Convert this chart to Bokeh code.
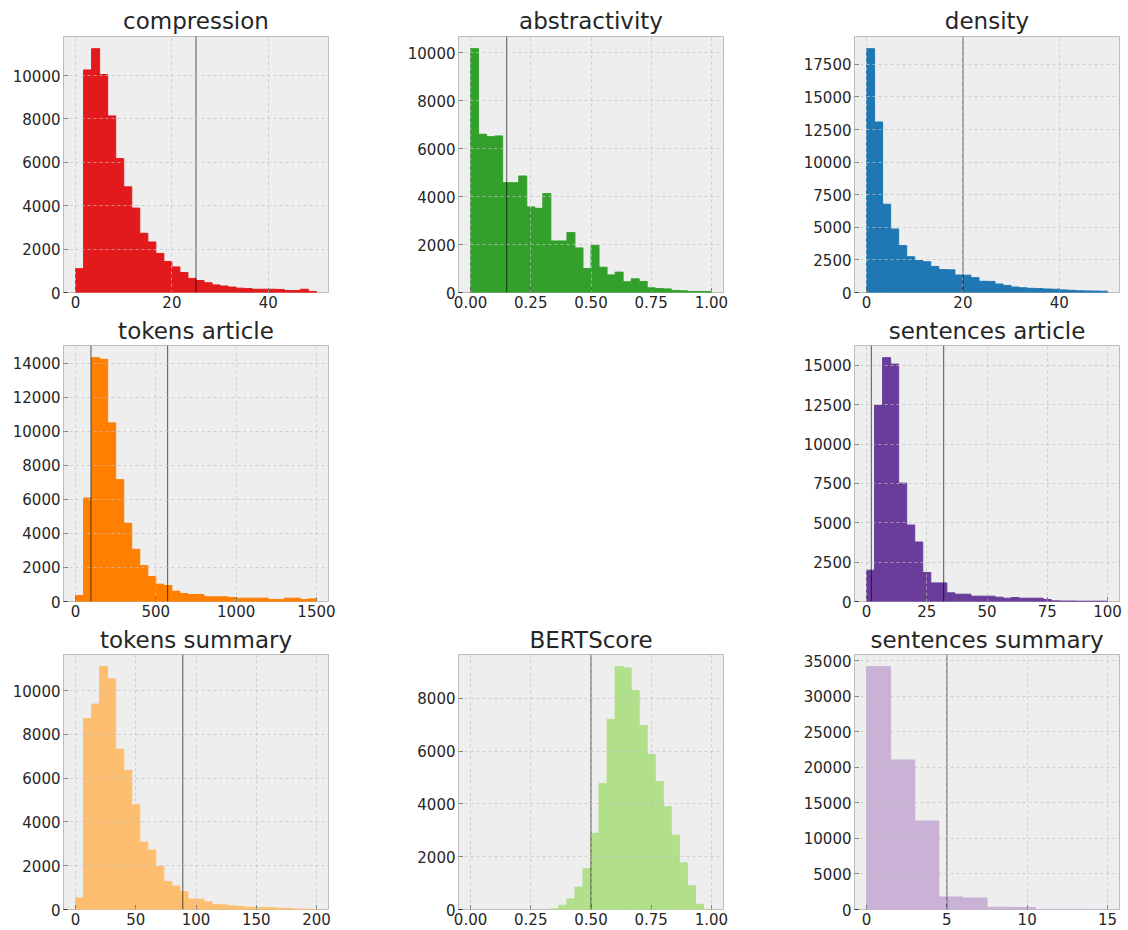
from bokeh.plotting import figure
from bokeh.layouts import column, row, Spacer
from bokeh.models import FixedTicker, Span, Range1d
from bokeh.embed import file_html
from bokeh.resources import INLINE

# ---------------- data ----------------
compression_counts = [1100, 10260, 11240, 10050, 8140, 6175, 4870, 3890, 2730, 2330,
                      1800, 1430, 1180, 920, 650, 550, 450, 350, 300, 250,
                      200, 180, 150, 150, 150, 140, 90, 90, 150, 50]
compression_range = [0, 50]
compression_lines = [25]

abstractivity_counts = [10170, 6600, 6500, 6530, 4580, 4580, 4860, 3570, 3510, 4125,
                        2150, 2150, 2500, 1860, 1000, 1970, 1055, 735, 850, 445,
                        570, 460, 195, 165, 150, 85, 70, 40, 40, 40]
abstractivity_range = [0, 1]
abstractivity_lines = [0.15]

density_counts = [18700, 13080, 6770, 4870, 3600, 2740, 2450, 2360, 2000, 1760,
                  1740, 1340, 1330, 1140, 860, 850, 650, 540, 420, 360,
                  320, 300, 270, 250, 200, 170, 130, 120, 110, 100]
density_range = [0, 50]
density_lines = [20]

tokens_article_counts = [350, 6080, 14330, 14235, 10500, 7160, 4600, 3070, 2110, 1470,
                         1020, 940, 605, 470, 410, 410, 275, 275, 275, 235,
                         195, 195, 195, 195, 115, 115, 195, 195, 115, 155]
tokens_article_range = [0, 1500]
tokens_article_lines = [96, 573]

sentences_article_counts = [1990, 12465, 15490, 15085, 7520, 4860, 3780, 1840, 1180, 1180,
                            550, 465, 465, 340, 340, 340, 275, 210, 255, 210,
                            210, 210, 125, 40, 30, 30, 20, 20, 20, 20]
sentences_article_range = [0, 100]
sentences_article_lines = [2, 32]

tokens_summary_counts = [530, 8720, 9380, 11090, 10530, 7320, 6350, 4780, 3080, 2715,
                         1960, 1280, 1070, 815, 480, 470, 345, 225, 210, 165,
                         135, 105, 90, 90, 75, 60, 45, 20, 15, 10]
tokens_summary_range = [0, 200]
tokens_summary_lines = [89]

bertscore_counts = [0, 0, 0, 0, 0, 0, 0, 0, 0, 0,
                    25, 160, 400, 850, 1540, 2890, 4770, 7200, 9200, 9150,
                    8300, 6970, 5870, 4845, 3890, 2815, 1765, 900, 200, 5]
bertscore_range = [0, 1]
bertscore_lines = [0.5]

sentences_summary_counts = [34200, 21060, 12460, 1770, 1630, 325, 280, 8, 3, 2]
sentences_summary_range = [0, 15]
sentences_summary_lines = [5]

titles = ["compression", "abstractivity", "density", "tokens article",
          "sentences article", "tokens summary", "BERTScore", "sentences summary"]

colors = ["#e31a1c", "#33a02c", "#1f78b4", "#ff7f00",
          "#6a3d9a", "#fdbf6f", "#b2df8a", "#cab2d6"]

xticks_compression = [0, 20, 40]
xticks_unit = [0, 0.25, 0.5, 0.75, 1.0]
xlabels_unit = ["0.00", "0.25", "0.50", "0.75", "1.00"]
xticks_density = [0, 20, 40]
xticks_tokens_article = [0, 500, 1000, 1500]
xticks_sentences_article = [0, 25, 50, 75, 100]
xticks_tokens_summary = [0, 50, 100, 150, 200]
xticks_sentences_summary = [0, 5, 10, 15]

yticks_compression = [0, 2000, 4000, 6000, 8000, 10000]
yticks_abstractivity = [0, 2000, 4000, 6000, 8000, 10000]
yticks_density = [0, 2500, 5000, 7500, 10000, 12500, 15000, 17500]
yticks_tokens_article = [0, 2000, 4000, 6000, 8000, 10000, 12000, 14000]
yticks_sentences_article = [0, 2500, 5000, 7500, 10000, 12500, 15000]
yticks_tokens_summary = [0, 2000, 4000, 6000, 8000, 10000]
yticks_bertscore = [0, 2000, 4000, 6000, 8000]
yticks_sentences_summary = [0, 5000, 10000, 15000, 20000, 25000, 30000, 35000]

FONT = "DejaVu Sans"
TEXT = "#262626"

# layout (Bokeh's standalone page has no body margin)
col_w = [395, 395, 338]
col_l = [63, 63, 64]
col_r = [67, 67, 9]
row_h = [313, 309, 308]
row_t = [36, 32, 32]
row_b = [21, 21, 21]
row_standoff = [6, 3, 3]


def panel(title, counts, rng, lines, color, xticks, yticks, ci, ri, xlabels=None):
    lo, hi = rng
    n = len(counts)
    w = (hi - lo) / n
    idx = [i for i in range(n) if counts[i] > 0]
    lefts = [lo + i * w for i in idx]
    rights = [lo + (i + 1) * w for i in idx]
    tops = [counts[i] for i in idx]
    pad = 0.05 * (hi - lo)
    p = figure(width=col_w[ci], height=row_h[ri],
               x_range=Range1d(lo - pad, hi + pad),
               y_range=Range1d(0, max(counts) * 1.05),
               output_backend="svg", toolbar_location=None,
               min_border_left=col_l[ci], min_border_right=col_r[ci],
               min_border_top=row_t[ri], min_border_bottom=row_b[ri])
    p.title.text = title
    p.title.align = "center"
    p.title.text_font = FONT
    p.title.text_font_size = "23px"
    p.title.text_font_style = "normal"
    p.title.text_color = TEXT
    p.title.standoff = row_standoff[ri]
    p.background_fill_color = "#eeeeee"
    p.border_fill_color = "white"
    p.outline_line_color = "#bcbcbc"
    p.outline_line_width = 1

    p.quad(left=lefts, right=rights, bottom=0, top=tops,
           fill_color=color, fill_alpha=1.0,
           line_color=color, line_width=1, line_alpha=1.0)

    for v in lines:
        p.add_layout(Span(location=v, dimension="height", line_color="black",
                          line_alpha=0.55, line_width=1.2))

    p.xaxis.ticker = FixedTicker(ticks=xticks)
    p.yaxis.ticker = FixedTicker(ticks=yticks)
    if xlabels is not None:
        p.xaxis.major_label_overrides = {t: l for t, l in zip(xticks, xlabels)}
    for ax in (p.xaxis, p.yaxis):
        ax.axis_line_color = None
        ax.major_tick_in = 4
        ax.major_tick_out = 0
        ax.major_tick_line_color = "#333333"
        ax.major_tick_line_width = 1
        ax.minor_tick_line_color = None
        ax.major_label_text_font = FONT
        ax.major_label_text_font_size = "15px"
        ax.major_label_text_color = TEXT
    p.xaxis.major_label_standoff = 3
    p.yaxis.major_label_standoff = 3

    for g in (p.xgrid, p.ygrid):
        g.grid_line_color = "#c2c2c2"
        g.grid_line_dash = "3 3"
        g.grid_line_width = 0.7
        g.level = "overlay"
    return p


p1 = panel(titles[0], compression_counts, compression_range, compression_lines, colors[0],
           xticks_compression, yticks_compression, 0, 0)
p2 = panel(titles[1], abstractivity_counts, abstractivity_range, abstractivity_lines, colors[1],
           xticks_unit, yticks_abstractivity, 1, 0, xlabels_unit)
p3 = panel(titles[2], density_counts, density_range, density_lines, colors[2],
           xticks_density, yticks_density, 2, 0)
p4 = panel(titles[3], tokens_article_counts, tokens_article_range, tokens_article_lines, colors[3],
           xticks_tokens_article, yticks_tokens_article, 0, 1)
p6 = panel(titles[4], sentences_article_counts, sentences_article_range, sentences_article_lines, colors[4],
           xticks_sentences_article, yticks_sentences_article, 2, 1)
p7 = panel(titles[5], tokens_summary_counts, tokens_summary_range, tokens_summary_lines, colors[5],
           xticks_tokens_summary, yticks_tokens_summary, 0, 2)
p8 = panel(titles[6], bertscore_counts, bertscore_range, bertscore_lines, colors[6],
           xticks_unit, yticks_bertscore, 1, 2, xlabels_unit)
p9 = panel(titles[7], sentences_summary_counts, sentences_summary_range, sentences_summary_lines, colors[7],
           xticks_sentences_summary, yticks_sentences_summary, 2, 2)

layout = column(
    row(p1, p2, p3),
    row(p4, Spacer(width=col_w[1], height=row_h[1]), p6),
    row(p7, p8, p9),
)

open("out.html", "w").write(file_html(layout, INLINE))
